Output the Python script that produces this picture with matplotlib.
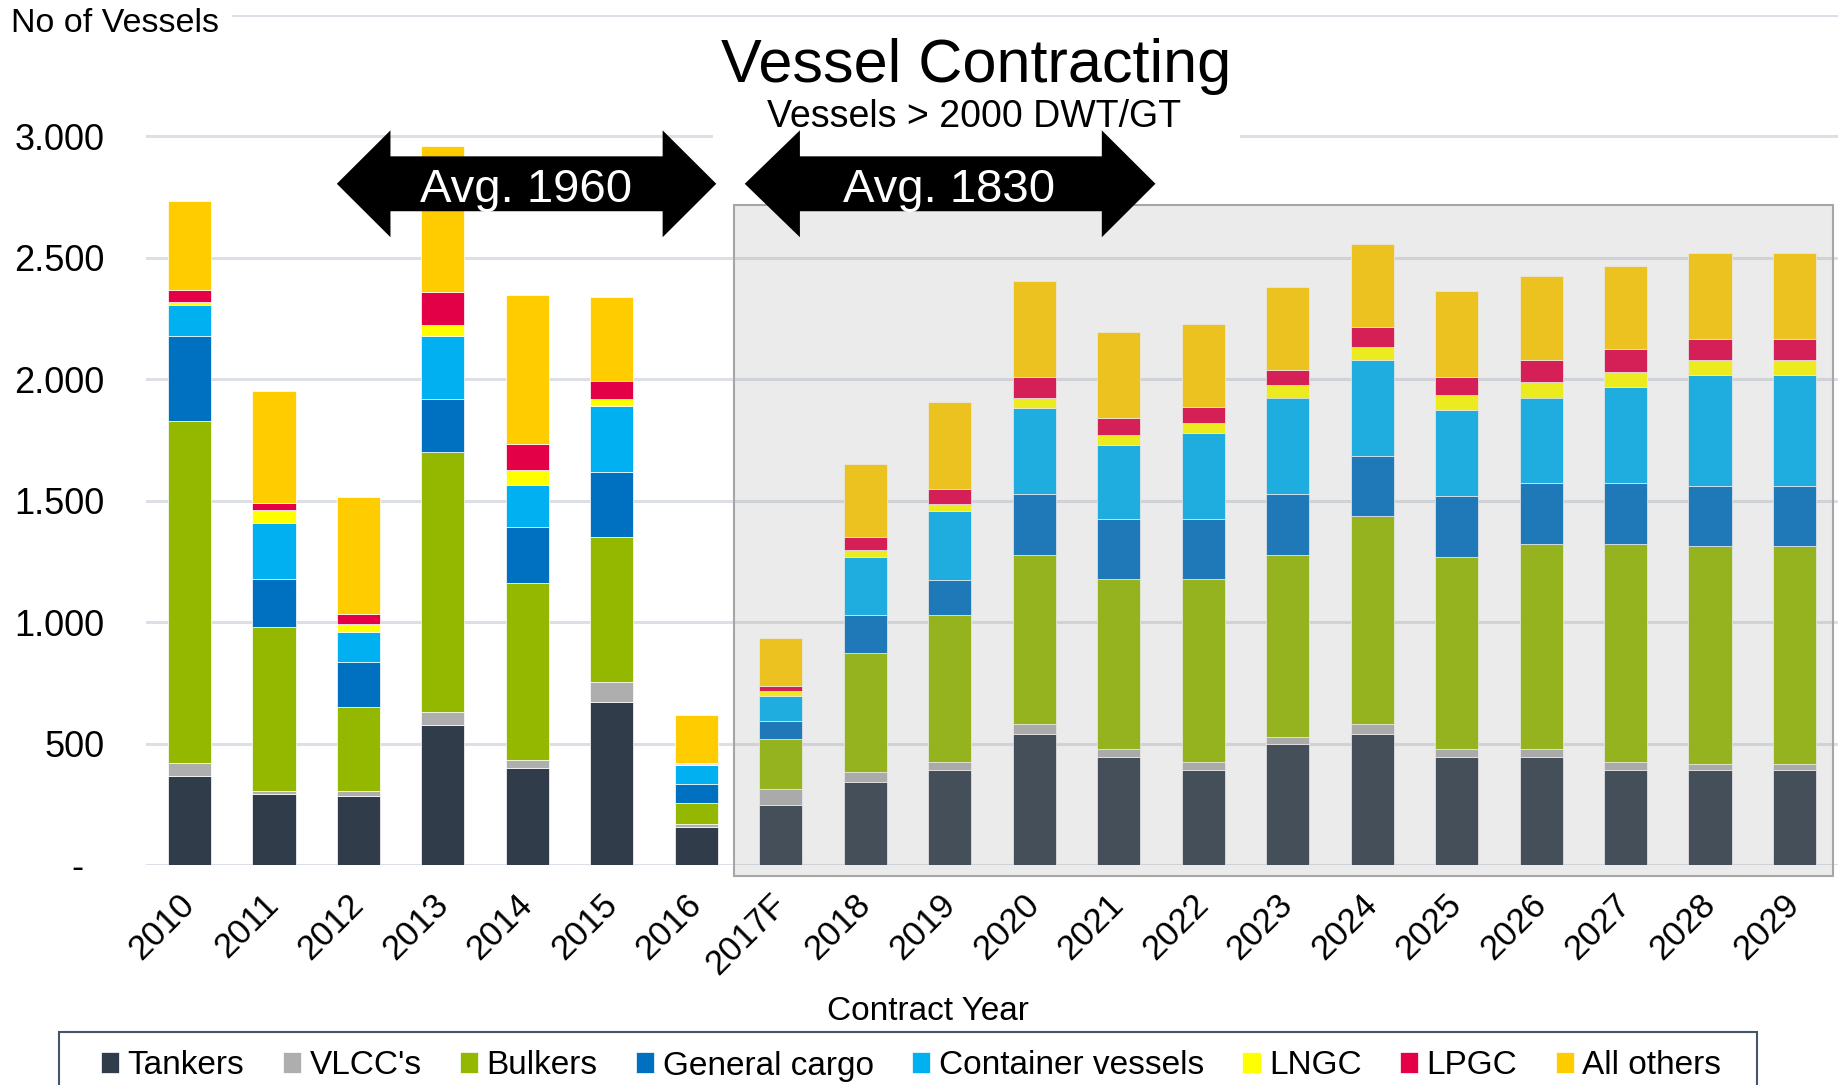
import numpy as np
import matplotlib.pyplot as plt
from matplotlib.patches import Rectangle, Polygon

plt.rcParams['font.family'] = ['Liberation Sans', 'DejaVu Sans']

years = ['2010', '2011', '2012', '2013', '2014', '2015', '2016', '2017F', '2018', '2019',
         '2020', '2021', '2022', '2023', '2024', '2025', '2026', '2027', '2028', '2029']

tankers = [367, 293, 284, 575, 398, 670, 158, 246, 342, 393, 538, 445, 393, 498, 538, 445, 445, 393, 393, 393]
vlcc = [53, 12, 21, 55, 33, 83, 12, 66, 42, 33, 44, 33, 33, 31, 44, 33, 33, 33, 22, 22]
bulkers = [1407, 677, 345, 1072, 729, 596, 85, 208, 490, 604, 696, 698, 750, 749, 854, 791, 843, 895, 897, 897]
general_cargo = [351, 196, 187, 218, 230, 270, 80, 71, 156, 144, 250, 249, 249, 250, 248, 250, 250, 250, 249, 249]
container = [128, 231, 123, 260, 175, 270, 75, 105, 237, 283, 355, 303, 355, 397, 397, 353, 354, 396, 458, 458]
lngc = [11, 52, 33, 42, 63, 31, 4, 22, 32, 31, 40, 41, 40, 51, 52, 62, 62, 63, 62, 62]
lpgc = [49, 31, 41, 136, 106, 75, 7, 19, 53, 62, 85, 72, 65, 63, 82, 74, 94, 93, 83, 83]
all_others = [367, 459, 480, 604, 613, 342, 198, 198, 301, 355, 396, 354, 341, 343, 344, 354, 344, 344, 354, 354]

series = [tankers, vlcc, bulkers, general_cargo, container, lngc, lpgc, all_others]
names = ['Tankers', "VLCC's", 'Bulkers', 'General cargo', 'Container vessels', 'LNGC', 'LPGC', 'All others']
colors = ['#303C49', '#AEAEAE', '#94B800', '#0070C0', '#00B0F0', '#FFFF00', '#E40046', '#FFCC00']

yticks = [0, 500, 1000, 1500, 2000, 2500, 3000, 3500]
ytick_labels = ['-  ', '500', '1.000', '1.500', '2.000', '2.500', '3.000', '']

fig = plt.figure(figsize=(18.39, 10.85), dpi=100)
ax = fig.add_axes([146 / 1839, 220 / 1085, 1692 / 1839, 850 / 1085])

x = np.arange(len(years))
bottom = np.zeros(len(years))
for vals, name, col in zip(series, names, colors):
    ax.bar(x, vals, 0.51, bottom=bottom, color=col, label=name,
           edgecolor='white', linewidth=0.5, zorder=2)
    bottom += np.array(vals)

ax.set_xlim(-0.515, 19.515)
ax.set_ylim(0, 3500)
ax.set_yticks(yticks)
ax.set_yticklabels(ytick_labels)
ax.set_xticks(x)
ax.set_xticklabels(years, rotation=45, ha='right', va='center', rotation_mode='anchor')
ax.tick_params(axis='x', length=0, pad=25, labelsize=25)
ax.tick_params(axis='y', length=0, pad=30, labelsize=26)
ax.grid(axis='y', color='#DCE0E6', linewidth=2.2, zorder=0)
ax.set_axisbelow(True)
for s in ax.spines.values():
    s.set_visible(False)

# forecast shading
ax.add_patch(Rectangle((6.44, -45), 13.01, 2761, facecolor='#9C9C9C', alpha=0.2,
                       edgecolor='none', zorder=3, clip_on=False))
ax.add_patch(Rectangle((6.44, -45), 13.01, 2761, facecolor='none',
                       edgecolor='#A6A6A6', linewidth=1.5, zorder=3, clip_on=False))

# white box behind the title
ax.add_patch(Rectangle((6.2, 2960), 6.23, 200, facecolor='white', edgecolor='none', zorder=4))

# double arrows
def double_arrow(x0, x1, x2, x3, yc, hh, bh, text, tx):
    pts = [(x0, yc), (x1, yc + hh), (x1, yc + bh), (x2, yc + bh), (x2, yc + hh),
           (x3, yc), (x2, yc - hh), (x2, yc - bh), (x1, yc - bh), (x1, yc - hh)]
    ax.add_patch(Polygon(pts, closed=True, facecolor='black', edgecolor='none', zorder=5))
    ax.text(tx, 2729, text, color='white', fontsize=34, ha='center', va='baseline', zorder=6)

double_arrow(1.744, 2.379, 5.601, 6.236, 2805, 220, 113, 'Avg. 1960', 3.98)
double_arrow(6.573, 7.226, 10.80, 11.435, 2805, 220, 113, 'Avg. 1830', 8.987)

fig.text(0.5307, 1 - 81.7 / 1085, 'Vessel Contracting', fontsize=44, ha='center', va='baseline')
fig.text(0.5295, 1 - 126.7 / 1085, 'Vessels > 2000 DWT/GT', fontsize=27, ha='center', va='baseline')
fig.text(11 / 1839, 1 - 31.7 / 1085, 'No of Vessels', fontsize=24.5, ha='left', va='baseline',
         bbox=dict(facecolor='white', edgecolor='none', pad=9))
fig.text(928 / 1839, 1 - 1020 / 1085, 'Contract Year', fontsize=24, ha='center', va='baseline')

# legend frame drawn by hand, entries placed inside it
fig.patches.append(Rectangle((58.6 / 1839, -10 / 1085), (1757 - 58.6) / 1839, (1085 - 1032 + 10) / 1085,
                             transform=fig.transFigure, facecolor='white', edgecolor='#44546A',
                             linewidth=1.5, zorder=1))
leg = fig.legend(loc='center left', bbox_to_anchor=(101 / 1839, 1 - 1066 / 1085), ncol=8,
                 fontsize=24, frameon=False, handlelength=0.55, handleheight=0.6,
                 handletextpad=0.25, columnspacing=1.15, borderpad=0, borderaxespad=0)
leg.set_zorder(2)

fig.savefig('out.png', dpi=100)
